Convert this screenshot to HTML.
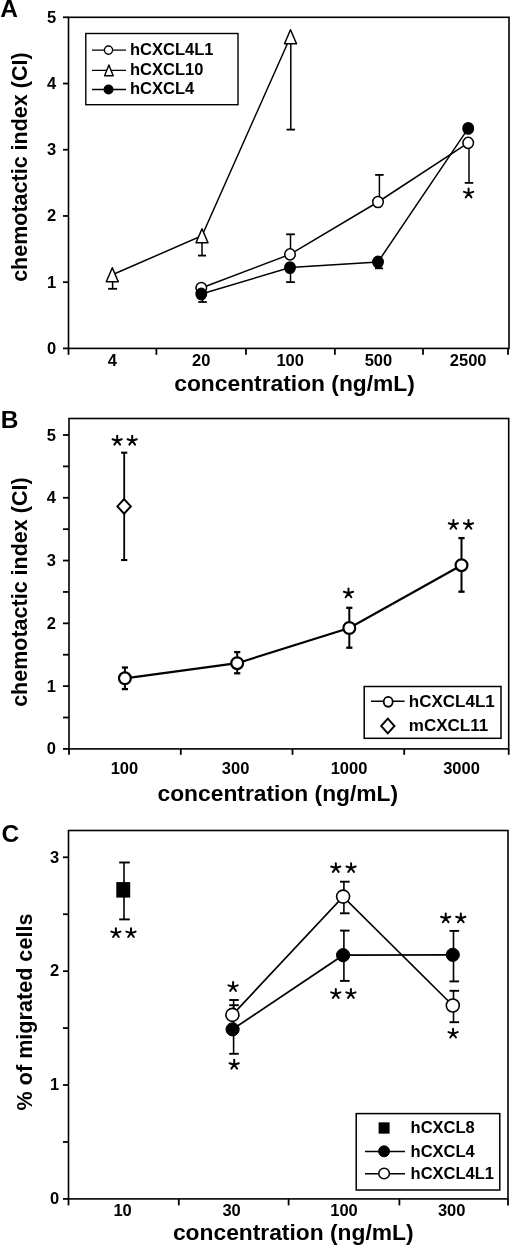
<!DOCTYPE html>
<html><head><meta charset="utf-8"><style>
html,body{margin:0;padding:0;background:#fff;width:520px;height:1253px;overflow:hidden}
svg{display:block;filter:grayscale(1)}
text{font-family:"Liberation Sans",sans-serif;font-weight:bold;fill:#000}
</style></head><body>
<svg width="520" height="1253" viewBox="0 0 520 1253" stroke="#000" fill="none">
<rect x="0" y="0" width="520" height="1253" fill="#fff" stroke="none"/>
<g>
<text stroke="none" x="0.30" y="17.30" font-size="24.5" text-anchor="start" >A</text>
<rect x="68.50" y="17.30" width="440.50" height="331.10" fill="none" stroke-width="1.6"/>
<line x1="63.00" y1="348.40" x2="68.50" y2="348.40" stroke-width="1.8"/>
<text stroke="none" x="56.20" y="353.90" font-size="16.5" text-anchor="end" >0</text>
<line x1="63.00" y1="282.18" x2="68.50" y2="282.18" stroke-width="1.8"/>
<text stroke="none" x="56.20" y="287.68" font-size="16.5" text-anchor="end" >1</text>
<line x1="63.00" y1="215.96" x2="68.50" y2="215.96" stroke-width="1.8"/>
<text stroke="none" x="56.20" y="221.46" font-size="16.5" text-anchor="end" >2</text>
<line x1="63.00" y1="149.74" x2="68.50" y2="149.74" stroke-width="1.8"/>
<text stroke="none" x="56.20" y="155.24" font-size="16.5" text-anchor="end" >3</text>
<line x1="63.00" y1="83.52" x2="68.50" y2="83.52" stroke-width="1.8"/>
<text stroke="none" x="56.20" y="89.02" font-size="16.5" text-anchor="end" >4</text>
<line x1="63.00" y1="17.30" x2="68.50" y2="17.30" stroke-width="1.8"/>
<text stroke="none" x="56.20" y="22.80" font-size="16.5" text-anchor="end" >5</text>
<line x1="68.50" y1="348.40" x2="68.50" y2="354.80" stroke-width="1.8"/>
<line x1="156.40" y1="348.40" x2="156.40" y2="354.80" stroke-width="1.8"/>
<line x1="246.00" y1="348.40" x2="246.00" y2="354.80" stroke-width="1.8"/>
<line x1="334.90" y1="348.40" x2="334.90" y2="354.80" stroke-width="1.8"/>
<line x1="423.00" y1="348.40" x2="423.00" y2="354.80" stroke-width="1.8"/>
<line x1="508.00" y1="348.40" x2="508.00" y2="354.80" stroke-width="1.8"/>
<text stroke="none" x="112.40" y="366.40" font-size="16.5" text-anchor="middle" >4</text>
<text stroke="none" x="201.30" y="366.40" font-size="16.5" text-anchor="middle" >20</text>
<text stroke="none" x="290.20" y="366.40" font-size="16.5" text-anchor="middle" >100</text>
<text stroke="none" x="378.40" y="366.40" font-size="16.5" text-anchor="middle" >500</text>
<text stroke="none" x="468.20" y="366.40" font-size="16.5" text-anchor="middle" >2500</text>
<text stroke="none" x="294.60" y="390.80" font-size="22.8" text-anchor="middle" >concentration (ng/mL)</text>
<text stroke="none" x="0" y="0" font-size="21.5" text-anchor="middle" transform="translate(27.00,167.15) rotate(-90)">chemotactic index (CI)</text>
<rect x="85.80" y="33.50" width="152.20" height="71.20" fill="none" stroke-width="1.4"/>
<line x1="92.00" y1="50.10" x2="126.00" y2="50.10" stroke-width="1.4"/>
<line x1="92.00" y1="70.40" x2="126.00" y2="70.40" stroke-width="1.4"/>
<line x1="92.00" y1="89.50" x2="126.00" y2="89.50" stroke-width="1.4"/>
<circle cx="108.50" cy="50.10" r="4.1" fill="#fff" stroke-width="1.4"/>
<path d="M108.90,65.00L113.20,75.80L104.60,75.80Z" fill="#fff" stroke-width="1.4" stroke-linejoin="round"/>
<circle cx="108.50" cy="89.50" r="4.3" fill="#000" stroke-width="1.4"/>
<text stroke="none" x="130.00" y="54.70" font-size="16.5" text-anchor="start" >hCXCL4L1</text>
<text stroke="none" x="130.00" y="75.00" font-size="16.5" text-anchor="start" >hCXCL10</text>
<text stroke="none" x="130.00" y="94.10" font-size="16.5" text-anchor="start" >hCXCL4</text>
<polyline points="112.30,274.80 202.00,235.70 290.50,36.70" fill="none" stroke-width="1.5"/>
<polyline points="201.30,288.00 290.00,254.40 378.00,202.00 468.20,142.90" fill="none" stroke-width="1.5"/>
<polyline points="201.30,294.00 290.00,267.60 378.00,262.00 468.20,128.40" fill="none" stroke-width="1.5"/>
<line x1="112.60" y1="274.80" x2="112.60" y2="288.80" stroke-width="1.5"/>
<line x1="108.10" y1="288.80" x2="117.10" y2="288.80" stroke-width="1.8"/>
<line x1="202.00" y1="235.70" x2="202.00" y2="255.60" stroke-width="1.5"/>
<line x1="198.00" y1="255.60" x2="206.00" y2="255.60" stroke-width="1.8"/>
<line x1="290.80" y1="36.70" x2="290.80" y2="129.60" stroke-width="1.5"/>
<line x1="286.55" y1="129.60" x2="295.05" y2="129.60" stroke-width="1.8"/>
<line x1="290.50" y1="254.40" x2="290.50" y2="234.30" stroke-width="1.5"/>
<line x1="286.15" y1="234.30" x2="294.85" y2="234.30" stroke-width="1.8"/>
<line x1="379.40" y1="202.00" x2="379.40" y2="174.90" stroke-width="1.5"/>
<line x1="375.15" y1="174.90" x2="383.65" y2="174.90" stroke-width="1.8"/>
<line x1="469.00" y1="142.90" x2="469.00" y2="182.90" stroke-width="1.5"/>
<line x1="464.75" y1="182.90" x2="473.25" y2="182.90" stroke-width="1.8"/>
<line x1="202.50" y1="294.00" x2="202.50" y2="302.00" stroke-width="1.5"/>
<line x1="198.30" y1="302.00" x2="206.70" y2="302.00" stroke-width="1.8"/>
<line x1="290.50" y1="267.60" x2="290.50" y2="282.10" stroke-width="1.5"/>
<line x1="286.15" y1="282.10" x2="294.85" y2="282.10" stroke-width="1.8"/>
<line x1="379.00" y1="262.00" x2="379.00" y2="268.30" stroke-width="1.5"/>
<line x1="375.00" y1="268.30" x2="383.00" y2="268.30" stroke-width="1.8"/>
<path d="M112.30,267.80L118.30,281.80L106.30,281.80Z" fill="#fff" stroke-width="1.5" stroke-linejoin="round"/>
<path d="M202.00,228.70L208.00,242.70L196.00,242.70Z" fill="#fff" stroke-width="1.5" stroke-linejoin="round"/>
<path d="M290.50,29.70L296.50,43.70L284.50,43.70Z" fill="#fff" stroke-width="1.5" stroke-linejoin="round"/>
<ellipse cx="201.30" cy="288.00" rx="5.25" ry="5.6" fill="#fff" stroke-width="1.5"/>
<ellipse cx="290.00" cy="254.40" rx="5.25" ry="5.6" fill="#fff" stroke-width="1.5"/>
<ellipse cx="378.00" cy="202.00" rx="5.25" ry="5.6" fill="#fff" stroke-width="1.5"/>
<ellipse cx="468.20" cy="142.90" rx="5.25" ry="5.6" fill="#fff" stroke-width="1.5"/>
<ellipse cx="201.30" cy="294.00" rx="5.2" ry="5.7" fill="#000" stroke-width="1.5"/>
<ellipse cx="290.00" cy="267.60" rx="5.2" ry="5.7" fill="#000" stroke-width="1.5"/>
<ellipse cx="378.00" cy="262.00" rx="5.2" ry="5.7" fill="#000" stroke-width="1.5"/>
<ellipse cx="468.20" cy="128.40" rx="5.2" ry="5.7" fill="#000" stroke-width="1.5"/>
<path d="M468.60,193.40L468.60,188.55M468.60,193.40L473.21,191.90M468.60,193.40L471.45,197.32M468.60,193.40L465.75,197.32M468.60,193.40L463.99,191.90" stroke-width="2.0" stroke-linecap="round" fill="none"/>
<text stroke="none" x="0.80" y="428.20" font-size="24.5" text-anchor="start" >B</text>
<rect x="69.00" y="418.50" width="439.70" height="330.40" fill="none" stroke-width="1.6"/>
<line x1="63.00" y1="748.90" x2="69.00" y2="748.90" stroke-width="1.8"/>
<text stroke="none" x="56.00" y="754.40" font-size="16.5" text-anchor="end" >0</text>
<line x1="63.00" y1="717.51" x2="69.00" y2="717.51" stroke-width="1.8"/>
<line x1="63.00" y1="686.12" x2="69.00" y2="686.12" stroke-width="1.8"/>
<text stroke="none" x="56.00" y="691.62" font-size="16.5" text-anchor="end" >1</text>
<line x1="63.00" y1="654.73" x2="69.00" y2="654.73" stroke-width="1.8"/>
<line x1="63.00" y1="623.34" x2="69.00" y2="623.34" stroke-width="1.8"/>
<text stroke="none" x="56.00" y="628.84" font-size="16.5" text-anchor="end" >2</text>
<line x1="63.00" y1="591.95" x2="69.00" y2="591.95" stroke-width="1.8"/>
<line x1="63.00" y1="560.56" x2="69.00" y2="560.56" stroke-width="1.8"/>
<text stroke="none" x="56.00" y="566.06" font-size="16.5" text-anchor="end" >3</text>
<line x1="63.00" y1="529.17" x2="69.00" y2="529.17" stroke-width="1.8"/>
<line x1="63.00" y1="497.78" x2="69.00" y2="497.78" stroke-width="1.8"/>
<text stroke="none" x="56.00" y="503.28" font-size="16.5" text-anchor="end" >4</text>
<line x1="63.00" y1="466.39" x2="69.00" y2="466.39" stroke-width="1.8"/>
<line x1="63.00" y1="435.00" x2="69.00" y2="435.00" stroke-width="1.8"/>
<text stroke="none" x="56.00" y="440.50" font-size="16.5" text-anchor="end" >5</text>
<line x1="69.00" y1="748.90" x2="69.00" y2="754.80" stroke-width="1.8"/>
<line x1="180.80" y1="748.90" x2="180.80" y2="754.80" stroke-width="1.8"/>
<line x1="292.50" y1="748.90" x2="292.50" y2="754.80" stroke-width="1.8"/>
<line x1="404.20" y1="748.90" x2="404.20" y2="754.80" stroke-width="1.8"/>
<line x1="508.70" y1="748.90" x2="508.70" y2="754.80" stroke-width="1.8"/>
<text stroke="none" x="124.40" y="774.00" font-size="16.5" text-anchor="middle" >100</text>
<text stroke="none" x="235.60" y="774.00" font-size="16.5" text-anchor="middle" >300</text>
<text stroke="none" x="349.00" y="774.00" font-size="16.5" text-anchor="middle" >1000</text>
<text stroke="none" x="461.50" y="774.00" font-size="16.5" text-anchor="middle" >3000</text>
<text stroke="none" x="277.85" y="801.30" font-size="22.8" text-anchor="middle" >concentration (ng/mL)</text>
<text stroke="none" x="0" y="0" font-size="21.5" text-anchor="middle" transform="translate(27.00,592.15) rotate(-90)">chemotactic index (CI)</text>
<rect x="364.20" y="686.50" width="136.80" height="51.80" fill="none" stroke-width="1.5"/>
<line x1="371.00" y1="701.30" x2="404.60" y2="701.30" stroke-width="1.6"/>
<ellipse cx="388.2" cy="701.8" rx="4.5" ry="4.95" fill="#fff" stroke-width="1.8"/>
<path d="M387.80,718.60L394.50,726.00L387.80,733.40L381.10,726.00Z" fill="#fff" stroke-width="1.9"/>
<text stroke="none" x="408.80" y="707.00" font-size="17" text-anchor="start" >hCXCL4L1</text>
<text stroke="none" x="408.80" y="730.60" font-size="17" text-anchor="start" >mCXCL11</text>
<polyline points="124.90,678.30 237.20,663.20 349.30,628.00 461.50,565.20" fill="none" stroke-width="2.2"/>
<line x1="124.90" y1="678.30" x2="124.90" y2="667.50" stroke-width="2.0"/>
<line x1="121.80" y1="667.50" x2="128.00" y2="667.50" stroke-width="2.3"/>
<line x1="124.90" y1="678.30" x2="124.90" y2="689.10" stroke-width="2.0"/>
<line x1="121.80" y1="689.10" x2="128.00" y2="689.10" stroke-width="2.3"/>
<line x1="237.20" y1="663.20" x2="237.20" y2="652.10" stroke-width="2.0"/>
<line x1="234.10" y1="652.10" x2="240.30" y2="652.10" stroke-width="2.3"/>
<line x1="237.20" y1="663.20" x2="237.20" y2="673.30" stroke-width="2.0"/>
<line x1="234.10" y1="673.30" x2="240.30" y2="673.30" stroke-width="2.3"/>
<line x1="349.30" y1="628.00" x2="349.30" y2="607.80" stroke-width="2.0"/>
<line x1="346.20" y1="607.80" x2="352.40" y2="607.80" stroke-width="2.3"/>
<line x1="349.30" y1="628.00" x2="349.30" y2="647.70" stroke-width="2.0"/>
<line x1="346.20" y1="647.70" x2="352.40" y2="647.70" stroke-width="2.3"/>
<line x1="461.50" y1="565.20" x2="461.50" y2="538.10" stroke-width="2.0"/>
<line x1="458.40" y1="538.10" x2="464.60" y2="538.10" stroke-width="2.3"/>
<line x1="461.50" y1="565.20" x2="461.50" y2="591.70" stroke-width="2.0"/>
<line x1="458.40" y1="591.70" x2="464.60" y2="591.70" stroke-width="2.3"/>
<line x1="124.20" y1="506.40" x2="124.20" y2="452.70" stroke-width="1.8"/>
<line x1="121.10" y1="452.70" x2="127.30" y2="452.70" stroke-width="2.1"/>
<line x1="124.20" y1="506.40" x2="124.20" y2="560.00" stroke-width="1.8"/>
<line x1="121.10" y1="560.00" x2="127.30" y2="560.00" stroke-width="2.1"/>
<path d="M124.10,499.10L130.80,506.40L124.10,513.70L117.40,506.40Z" fill="#fff" stroke-width="2.0"/>
<circle cx="124.90" cy="678.30" r="5.9" fill="#fff" stroke-width="2.2"/>
<circle cx="237.20" cy="663.20" r="5.9" fill="#fff" stroke-width="2.2"/>
<circle cx="349.30" cy="628.00" r="5.9" fill="#fff" stroke-width="2.2"/>
<circle cx="461.50" cy="565.20" r="5.9" fill="#fff" stroke-width="2.2"/>
<path d="M117.20,440.70L117.20,435.85M117.20,440.70L121.81,439.20M117.20,440.70L120.05,444.62M117.20,440.70L114.35,444.62M117.20,440.70L112.59,439.20" stroke-width="2.0" stroke-linecap="round" fill="none"/>
<path d="M132.20,440.70L132.20,435.85M132.20,440.70L136.81,439.20M132.20,440.70L135.05,444.62M132.20,440.70L129.35,444.62M132.20,440.70L127.59,439.20" stroke-width="2.0" stroke-linecap="round" fill="none"/>
<path d="M348.50,593.30L348.50,588.45M348.50,593.30L353.11,591.80M348.50,593.30L351.35,597.22M348.50,593.30L345.65,597.22M348.50,593.30L343.89,591.80" stroke-width="2.0" stroke-linecap="round" fill="none"/>
<path d="M453.40,524.80L453.40,519.95M453.40,524.80L458.01,523.30M453.40,524.80L456.25,528.72M453.40,524.80L450.55,528.72M453.40,524.80L448.79,523.30" stroke-width="2.0" stroke-linecap="round" fill="none"/>
<path d="M468.50,524.80L468.50,519.95M468.50,524.80L473.11,523.30M468.50,524.80L471.35,528.72M468.50,524.80L465.65,528.72M468.50,524.80L463.89,523.30" stroke-width="2.0" stroke-linecap="round" fill="none"/>
<text stroke="none" x="1.60" y="841.50" font-size="24.5" text-anchor="start" >C</text>
<rect x="68.50" y="830.50" width="439.50" height="368.40" fill="none" stroke-width="1.6"/>
<line x1="63.00" y1="1198.90" x2="68.50" y2="1198.90" stroke-width="1.8"/>
<text stroke="none" x="59.30" y="1204.20" font-size="16.5" text-anchor="end" >0</text>
<line x1="63.00" y1="1141.97" x2="68.50" y2="1141.97" stroke-width="1.8"/>
<line x1="63.00" y1="1085.03" x2="68.50" y2="1085.03" stroke-width="1.8"/>
<text stroke="none" x="59.30" y="1090.33" font-size="16.5" text-anchor="end" >1</text>
<line x1="63.00" y1="1028.10" x2="68.50" y2="1028.10" stroke-width="1.8"/>
<line x1="63.00" y1="971.16" x2="68.50" y2="971.16" stroke-width="1.8"/>
<text stroke="none" x="59.30" y="976.46" font-size="16.5" text-anchor="end" >2</text>
<line x1="63.00" y1="914.23" x2="68.50" y2="914.23" stroke-width="1.8"/>
<line x1="63.00" y1="857.29" x2="68.50" y2="857.29" stroke-width="1.8"/>
<text stroke="none" x="59.30" y="862.59" font-size="16.5" text-anchor="end" >3</text>
<line x1="68.50" y1="1198.90" x2="68.50" y2="1205.40" stroke-width="1.8"/>
<line x1="178.80" y1="1198.90" x2="178.80" y2="1205.40" stroke-width="1.8"/>
<line x1="288.60" y1="1198.90" x2="288.60" y2="1205.40" stroke-width="1.8"/>
<line x1="399.40" y1="1198.90" x2="399.40" y2="1205.40" stroke-width="1.8"/>
<line x1="508.00" y1="1198.90" x2="508.00" y2="1205.40" stroke-width="1.8"/>
<text stroke="none" x="122.60" y="1216.20" font-size="16.5" text-anchor="middle" >10</text>
<text stroke="none" x="231.60" y="1216.20" font-size="16.5" text-anchor="middle" >30</text>
<text stroke="none" x="344.00" y="1216.20" font-size="16.5" text-anchor="middle" >100</text>
<text stroke="none" x="451.70" y="1216.20" font-size="16.5" text-anchor="middle" >300</text>
<text stroke="none" x="293.25" y="1239.60" font-size="22.8" text-anchor="middle" >concentration (ng/mL)</text>
<text stroke="none" x="0" y="0" font-size="21.6" text-anchor="middle" transform="translate(32.00,1012.00) rotate(-90)">% of migrated cells</text>
<rect x="356.20" y="1113.60" width="143.60" height="76.40" fill="none" stroke-width="1.5"/>
<rect x="378.60" y="1122.35" width="11.0" height="11.3" fill="#000" stroke="none"/>
<line x1="365.00" y1="1151.50" x2="405.00" y2="1151.50" stroke-width="1.5"/>
<line x1="365.00" y1="1173.70" x2="405.00" y2="1173.70" stroke-width="1.5"/>
<circle cx="384.10" cy="1151.30" r="5.5" fill="#000" stroke-width="1.0"/>
<circle cx="384.10" cy="1173.50" r="5.3" fill="#fff" stroke-width="1.5"/>
<text stroke="none" x="410.60" y="1133.20" font-size="16.5" text-anchor="start" >hCXCL8</text>
<text stroke="none" x="410.60" y="1156.50" font-size="16.5" text-anchor="start" >hCXCL4</text>
<text stroke="none" x="410.60" y="1178.70" font-size="16.5" text-anchor="start" >hCXCL4L1</text>
<polyline points="232.60,1029.30 343.10,955.20 452.80,954.80" fill="none" stroke-width="1.7"/>
<polyline points="232.40,1014.90 343.10,896.60 452.80,1005.50" fill="none" stroke-width="1.7"/>
<line x1="124.00" y1="890.10" x2="124.00" y2="862.50" stroke-width="1.6"/>
<line x1="119.20" y1="862.50" x2="129.80" y2="862.50" stroke-width="1.9000000000000001"/>
<line x1="124.00" y1="890.10" x2="124.00" y2="919.40" stroke-width="1.6"/>
<line x1="119.20" y1="919.40" x2="129.80" y2="919.40" stroke-width="1.9000000000000001"/>
<line x1="233.60" y1="1029.30" x2="233.60" y2="1005.20" stroke-width="1.6"/>
<line x1="229.20" y1="1005.20" x2="238.80" y2="1005.20" stroke-width="1.9000000000000001"/>
<line x1="233.60" y1="1029.30" x2="233.60" y2="1053.80" stroke-width="1.6"/>
<line x1="229.20" y1="1053.80" x2="238.80" y2="1053.80" stroke-width="1.9000000000000001"/>
<line x1="343.90" y1="955.20" x2="343.90" y2="930.60" stroke-width="1.6"/>
<line x1="340.00" y1="930.60" x2="349.60" y2="930.60" stroke-width="1.9000000000000001"/>
<line x1="343.90" y1="955.20" x2="343.90" y2="980.90" stroke-width="1.6"/>
<line x1="340.00" y1="980.90" x2="349.60" y2="980.90" stroke-width="1.9000000000000001"/>
<line x1="453.50" y1="954.80" x2="453.50" y2="930.90" stroke-width="1.6"/>
<line x1="449.50" y1="930.90" x2="459.10" y2="930.90" stroke-width="1.9000000000000001"/>
<line x1="453.50" y1="954.80" x2="453.50" y2="981.40" stroke-width="1.6"/>
<line x1="449.50" y1="981.40" x2="459.10" y2="981.40" stroke-width="1.9000000000000001"/>
<line x1="233.60" y1="1014.90" x2="233.60" y2="1000.00" stroke-width="1.6"/>
<line x1="229.20" y1="1000.00" x2="238.80" y2="1000.00" stroke-width="1.9000000000000001"/>
<line x1="343.90" y1="896.60" x2="343.90" y2="881.70" stroke-width="1.6"/>
<line x1="340.00" y1="881.70" x2="349.60" y2="881.70" stroke-width="1.9000000000000001"/>
<line x1="343.90" y1="896.60" x2="343.90" y2="913.30" stroke-width="1.6"/>
<line x1="340.00" y1="913.30" x2="349.60" y2="913.30" stroke-width="1.9000000000000001"/>
<line x1="453.50" y1="1005.50" x2="453.50" y2="990.80" stroke-width="1.6"/>
<line x1="449.50" y1="990.80" x2="459.10" y2="990.80" stroke-width="1.9000000000000001"/>
<line x1="453.50" y1="1005.50" x2="453.50" y2="1022.20" stroke-width="1.6"/>
<line x1="449.50" y1="1022.20" x2="459.10" y2="1022.20" stroke-width="1.9000000000000001"/>
<rect x="116.30" y="882.10" width="13.9" height="15.5" fill="#000" stroke="none"/>
<circle cx="232.60" cy="1029.30" r="6.6" fill="#000" stroke-width="1.0"/>
<circle cx="343.10" cy="955.20" r="6.6" fill="#000" stroke-width="1.0"/>
<circle cx="452.80" cy="954.80" r="6.6" fill="#000" stroke-width="1.0"/>
<circle cx="232.40" cy="1014.90" r="6.5" fill="#fff" stroke-width="1.6"/>
<circle cx="343.10" cy="896.60" r="6.5" fill="#fff" stroke-width="1.6"/>
<circle cx="452.80" cy="1005.50" r="6.5" fill="#fff" stroke-width="1.6"/>
<path d="M115.90,933.10L115.90,928.25M115.90,933.10L120.51,931.60M115.90,933.10L118.75,937.02M115.90,933.10L113.05,937.02M115.90,933.10L111.29,931.60" stroke-width="2.0" stroke-linecap="round" fill="none"/>
<path d="M131.00,933.10L131.00,928.25M131.00,933.10L135.61,931.60M131.00,933.10L133.85,937.02M131.00,933.10L128.15,937.02M131.00,933.10L126.39,931.60" stroke-width="2.0" stroke-linecap="round" fill="none"/>
<path d="M233.10,986.90L233.10,982.05M233.10,986.90L237.71,985.40M233.10,986.90L235.95,990.82M233.10,986.90L230.25,990.82M233.10,986.90L228.49,985.40" stroke-width="2.0" stroke-linecap="round" fill="none"/>
<path d="M234.20,1064.70L234.20,1059.85M234.20,1064.70L238.81,1063.20M234.20,1064.70L237.05,1068.62M234.20,1064.70L231.35,1068.62M234.20,1064.70L229.59,1063.20" stroke-width="2.0" stroke-linecap="round" fill="none"/>
<path d="M335.80,868.00L335.80,863.15M335.80,868.00L340.41,866.50M335.80,868.00L338.65,871.92M335.80,868.00L332.95,871.92M335.80,868.00L331.19,866.50" stroke-width="2.0" stroke-linecap="round" fill="none"/>
<path d="M351.10,868.00L351.10,863.15M351.10,868.00L355.71,866.50M351.10,868.00L353.95,871.92M351.10,868.00L348.25,871.92M351.10,868.00L346.49,866.50" stroke-width="2.0" stroke-linecap="round" fill="none"/>
<path d="M335.80,993.90L335.80,989.05M335.80,993.90L340.41,992.40M335.80,993.90L338.65,997.82M335.80,993.90L332.95,997.82M335.80,993.90L331.19,992.40" stroke-width="2.0" stroke-linecap="round" fill="none"/>
<path d="M350.90,993.90L350.90,989.05M350.90,993.90L355.51,992.40M350.90,993.90L353.75,997.82M350.90,993.90L348.05,997.82M350.90,993.90L346.29,992.40" stroke-width="2.0" stroke-linecap="round" fill="none"/>
<path d="M445.70,918.30L445.70,913.45M445.70,918.30L450.31,916.80M445.70,918.30L448.55,922.22M445.70,918.30L442.85,922.22M445.70,918.30L441.09,916.80" stroke-width="2.0" stroke-linecap="round" fill="none"/>
<path d="M460.80,918.30L460.80,913.45M460.80,918.30L465.41,916.80M460.80,918.30L463.65,922.22M460.80,918.30L457.95,922.22M460.80,918.30L456.19,916.80" stroke-width="2.0" stroke-linecap="round" fill="none"/>
<path d="M453.10,1033.60L453.10,1028.75M453.10,1033.60L457.71,1032.10M453.10,1033.60L455.95,1037.52M453.10,1033.60L450.25,1037.52M453.10,1033.60L448.49,1032.10" stroke-width="2.0" stroke-linecap="round" fill="none"/>
</g>
</svg>
</body></html>
